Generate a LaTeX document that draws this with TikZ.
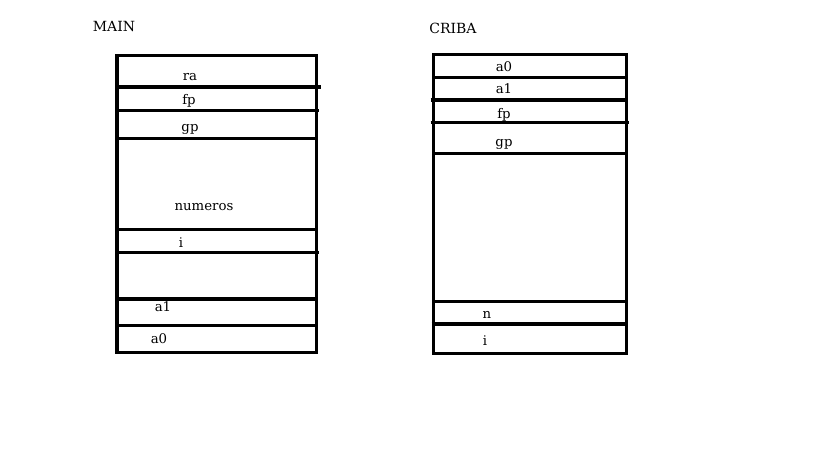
\documentclass[tikz,border=0pt]{standalone}
\usepackage{fontspec}
\setmainfont{DejaVu Serif}
\begin{document}
\begin{tikzpicture}[x=1pt,y=-1pt,
  wall/.style={line width=3.2pt},
  lbl/.style={font=\fontsize{13.3}{16}\selectfont, inner sep=0pt, anchor=base},
  ttl/.style={font=\fontsize{14}{16}\selectfont, inner sep=0pt, anchor=base}]
\useasboundingbox (0,0) rectangle (819,460);
% ---- MAIN frame ----
\node[ttl] (mainT) at (114,31.7) {MAIN};
\draw[wall] (117,55.5) rectangle (316.5,352.5);
\draw[wall] (117,87) -- (320.5,87);
\draw[wall] (117,110.7) -- (318.5,110.7);
\draw[wall] (117,138.3) -- (316.5,138.3);
\draw[wall] (115,229.3) -- (316.5,229.3);
\draw[wall] (117,252.7) -- (318.5,252.7);
\draw[wall] (117,299) -- (316.5,299);
\draw[wall] (117,325.3) -- (316.5,325.3);
\node[lbl] (mra) at (190,80.5) {ra};
\node[lbl] (mfp) at (189,104) {fp};
\node[lbl] (mgp) at (190,131.7) {gp};
\node[lbl] (mnum) at (204,210.7) {numeros};
\node[lbl] (mi) at (181,247) {i};
\node[lbl] (ma1) at (163,311.7) {a1};
\node[lbl] (ma0) at (159,343.5) {a0};
% ---- CRIBA frame ----
\node[ttl] (cribaT) at (453,34) {CRIBA};
\draw[wall] (433.5,54.5) rectangle (626.5,353.5);
\draw[wall] (433.5,77.7) -- (626.5,77.7);
\draw[wall] (430.7,100) -- (626.5,100);
\draw[wall] (430.7,122.3) -- (629,122.3);
\draw[wall] (433.5,153.3) -- (626.5,153.3);
\draw[wall] (433.5,301.7) -- (626.5,301.7);
\draw[wall] (431.7,324) -- (626.5,324);
\node[lbl] (ca0) at (504,71.5) {a0};
\node[lbl] (ca1) at (504,93) {a1};
\node[lbl] (cfp) at (504,118) {fp};
\node[lbl] (cgp) at (504,146.7) {gp};
\node[lbl] (cn) at (487,318.5) {n};
\node[lbl] (ci) at (485,345.5) {i};
\end{tikzpicture}
\end{document}
